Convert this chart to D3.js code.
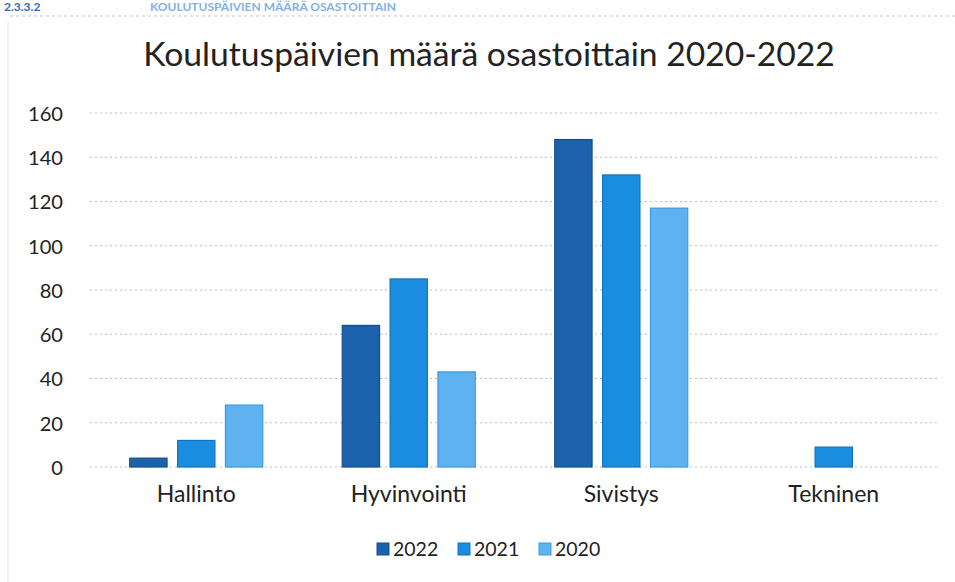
<!DOCTYPE html>
<html>
<head>
<meta charset="utf-8">
<script src="https://cdn.jsdelivr.net/npm/d3@7"></script>
<style>
  body { margin: 0; background: #fff; }
  text { font-family: Lato, "Open Sans", sans-serif; fill: #222; }
</style>
</head>
<body>
<svg id="chart"></svg>
<script>
var categories = ["Hallinto", "Hyvinvointi", "Sivistys", "Tekninen"];
var years = ["2022", "2021", "2020"];
var values2022 = [4, 64, 148, 0];
var values2021 = [12, 85, 132, 9];
var values2020 = [28, 43, 117, 0];
var yTicks = [0, 20, 40, 60, 80, 100, 120, 140, 160];

var series = {"2022": values2022, "2021": values2021, "2020": values2020};
var fill = {"2022": "#1c61ab", "2021": "#1b8de0", "2020": "#5db2ef"};
var edge = {"2022": "#154f8e", "2021": "#1473bd", "2020": "#3f9be0"};

var W = 955, H = 582;
var svg = d3.select("#chart").attr("width", W).attr("height", H);

// scanned page bits: heading of the section and page margin line
svg.append("text").attr("x", 4).attr("y", 11).style("font-size", "12px").attr("font-weight", "bold")
    .style("fill", "#2d6cc0").text("2.3.3.2");
svg.append("text").attr("x", 150).attr("y", 11).style("font-size", "12px").attr("font-weight", "bold")
    .style("fill", "#4f8fd8").attr("opacity", 0.7).text("KOULUTUSPÄIVIEN MÄÄRÄ OSASTOITTAIN");
svg.append("line").attr("x1", 10).attr("x2", 955).attr("y1", 16).attr("y2", 16)
    .attr("stroke", "#c4c4c4").attr("stroke-dasharray", "3,3");
svg.append("line").attr("x1", 8).attr("x2", 8).attr("y1", 22).attr("y2", 582)
    .attr("stroke", "#e6e6e6");

var x0 = d3.scaleBand().domain(categories).range([90, 940])
    .paddingInner(0.374).paddingOuter(0.187);
var x1 = d3.scaleBand().domain(years).range([0, x0.bandwidth()]).paddingInner(0.22);
var y = d3.scaleLinear().domain([0, 160]).range([467, 113]);

// fit a text selection so that its first node is the wanted width
function fit(sel, size, target) {
    sel.style("font-size", size + "px");
    var w = sel.node().getComputedTextLength();
    sel.style("font-size", (size * target / w) + "px");
}

// title
var title = svg.append("text").attr("x", 489).attr("y", 66).attr("text-anchor", "middle")
    .text("Koulutuspäivien määrä osastoittain 2020-2022");
fit(title, 29, 692);

// gridlines
svg.append("g").selectAll("line").data(yTicks).enter().append("line")
    .attr("x1", 90).attr("x2", 940)
    .attr("y1", function (d) { return y(d); })
    .attr("y2", function (d) { return y(d); })
    .attr("stroke", "#bdbdbd").attr("stroke-width", 1)
    .attr("stroke-dasharray", "2,3");

// y axis labels
var yAxis = d3.axisLeft(y).tickValues(yTicks).tickSize(0).tickPadding(0);
var yg = svg.append("g").attr("transform", "translate(63,0)").call(yAxis);
yg.select(".domain").remove();
var yt = yg.selectAll("text").attr("dy", "0.36em")
    .style("font-family", "Lato, 'Open Sans', sans-serif").style("fill", "#222");
var ytop = yg.selectAll("text").filter(function (d) { return d === 160; });
ytop.style("font-size", "20px");
var ys = 20 * 35 / ytop.node().getComputedTextLength();
yt.style("font-size", ys + "px");

// bars
var groups = svg.append("g").selectAll("g").data(categories).enter().append("g")
    .attr("transform", function (d) { return "translate(" + x0(d) + ",0)"; });
groups.selectAll("rect")
    .data(function (c, i) {
        return years.map(function (yr) { return {year: yr, value: series[yr][i]}; })
            .filter(function (d) { return d.value > 0; });
    })
    .enter().append("rect")
    .attr("x", function (d) { return x1(d.year); })
    .attr("width", x1.bandwidth())
    .attr("y", function (d) { return y(d.value); })
    .attr("height", function (d) { return y(0) - y(d.value); })
    .attr("fill", function (d) { return fill[d.year]; })
    .attr("stroke", function (d) { return edge[d.year]; })
    .attr("stroke-width", 1.2);

// x axis labels
var xAxis = d3.axisBottom(x0).tickSize(0).tickPadding(0);
var xg = svg.append("g").attr("transform", "translate(0,486)").call(xAxis);
xg.select(".domain").remove();
var xt = xg.selectAll("text").attr("dy", "0.71em")
    .style("font-family", "Lato, 'Open Sans', sans-serif").style("fill", "#222");
var xfirst = xg.select("text");
xfirst.style("font-size", "18px");
var xs = 18 * 79 / xfirst.node().getComputedTextLength();
xt.style("font-size", xs + "px");

// legend
var legend = svg.append("g").attr("transform", "translate(377,549)");
var lx = 0;
years.forEach(function (yr) {
    var it = legend.append("g").attr("transform", "translate(" + lx + ",0)");
    it.append("rect").attr("x", 0).attr("y", -6).attr("width", 12).attr("height", 12)
        .attr("fill", fill[yr]).attr("stroke", edge[yr]);
    it.append("text").attr("x", 16).attr("y", 0).attr("dy", "0.35em")
        .style("font-size", "19.5px").text(yr);
    lx += 81;
});
</script>
</body>
</html>
